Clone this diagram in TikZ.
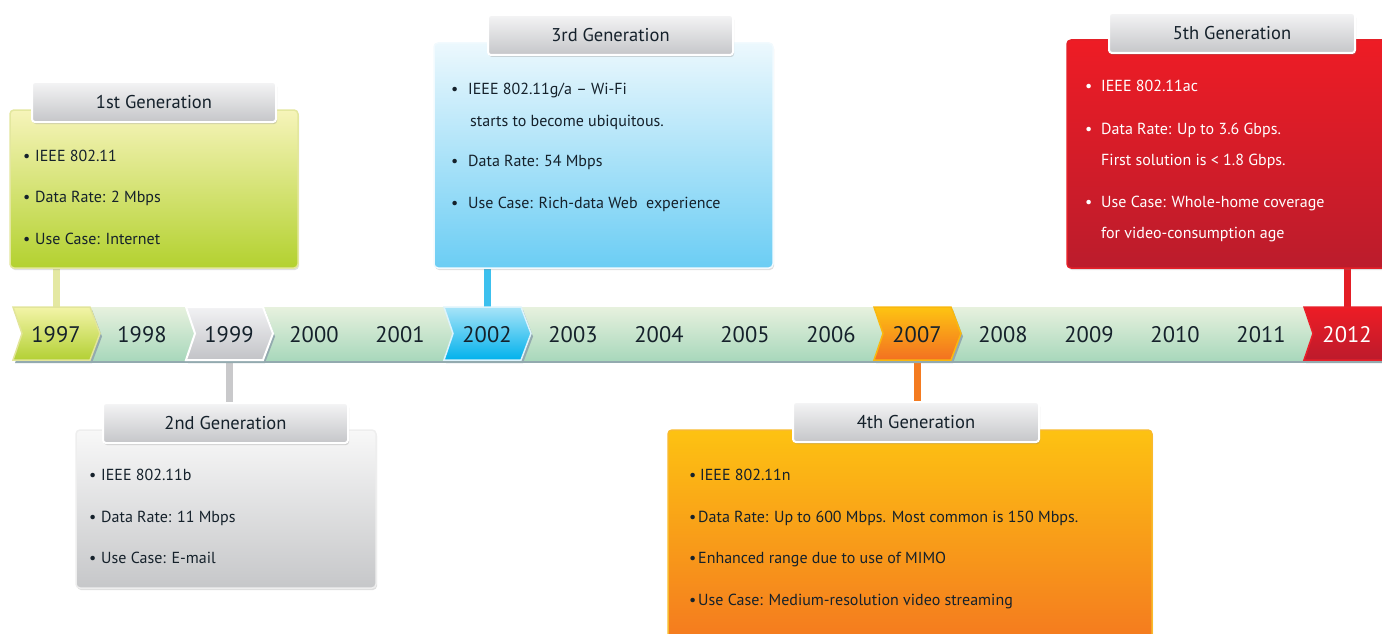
\documentclass[tikz,border=0pt]{standalone}
\usepackage{fontspec}
\setmainfont{PT Sans}
\usetikzlibrary{shadows,backgrounds}
\definecolor{txt}{HTML}{15212B}
\definecolor{bandT}{HTML}{E7F1DE}
\definecolor{bandB}{HTML}{A9D8BC}
\definecolor{bandsh}{HTML}{93AAAF}
\definecolor{hdrT}{HTML}{F4F4F5}
\definecolor{hdrB}{HTML}{C5C6C9}
% chevron colours
\definecolor{c1T}{HTML}{F3F4A8}\definecolor{c1B}{HTML}{B3D034}\definecolor{c1D}{HTML}{E2E59A}
\definecolor{c2T}{HTML}{F2F2F4}\definecolor{c2B}{HTML}{C2C3C7}
\definecolor{c3T}{HTML}{A8E4F8}\definecolor{c3B}{HTML}{00B1EC}\definecolor{c3D}{HTML}{DDF3FB}
\definecolor{c4T}{HTML}{FEC412}\definecolor{c4B}{HTML}{F37021}\definecolor{c4D}{HTML}{F9B80F}
\definecolor{c5T}{HTML}{EE1C25}\definecolor{c5B}{HTML}{BC1B2C}\definecolor{c5D}{HTML}{E8202A}
% box colours
\definecolor{b1T}{HTML}{F6F4BA}\definecolor{b1B}{HTML}{B3D12F}\definecolor{b1D}{HTML}{E3E79E}
\definecolor{b2T}{HTML}{F8F8F8}\definecolor{b2B}{HTML}{C6C7C9}\definecolor{b2D}{HTML}{EEEEEE}
\definecolor{b3T}{HTML}{ECF8FD}\definecolor{b3B}{HTML}{6BCDF4}\definecolor{b3D}{HTML}{F2FAFE}
\definecolor{b4T}{HTML}{FDC212}\definecolor{b4B}{HTML}{F37021}\definecolor{b4D}{HTML}{F9BA2C}
\definecolor{b5T}{HTML}{EE1C25}\definecolor{b5B}{HTML}{BB1C2C}\definecolor{b5D}{HTML}{E42028}
% connector colours
\definecolor{k1}{HTML}{E4E8A2}\definecolor{k2}{HTML}{C9C9CB}\definecolor{k3}{HTML}{3CC0EE}
\definecolor{k4}{HTML}{F47B20}\definecolor{k5}{HTML}{E31E26}
\newcommand\bl[1][12pt]{\makebox[#1][l]{•}}
\newcommand\chev[2]{%
  \begin{scope}[shift={(#1,0)}]
    \fill[bandsh] (-41,310) -- (36,310) -- (46,336.5) -- (36,363) -- (-41,363) -- (-32,336.5) -- cycle;
    \path[#2] (-43,307) -- (34,307) -- (44,333.5) -- (34,360) -- (-43,360) -- (-34,333.5) -- cycle;
  \end{scope}}
\tikzset{
  box/.style={rectangle, rounded corners=4pt, line width=1.5pt, inner sep=0pt,
    drop shadow={shadow xshift=1pt, shadow yshift=-2pt, opacity=.25}},
  hdr/.style={rectangle, rounded corners=3pt, draw=white, line width=2pt,
    top color=hdrT, bottom color=hdrB, text=txt, font=\fontsize{18.5}{20}\selectfont,
    minimum width=245pt, minimum height=40pt, inner sep=0pt,
    drop shadow={shadow xshift=1pt, shadow yshift=-2pt, opacity=.3}},
  body/.style={anchor=mid west, inner sep=0pt, yshift=-3pt, text=txt, font=\fontsize{16}{18}\selectfont},
  yr/.style={inner sep=0pt, yshift=-1pt, text=txt, font=\fontsize{22.5}{24}\selectfont},
  conn/.style={line width=7pt},
}
\begin{document}
\begin{tikzpicture}[x=1pt,y=-1pt]
\useasboundingbox (0,0) rectangle (1382,634);
\clip (0,0) rectangle (1382,634);
% band
\fill[bandsh] (60,310) rectangle (1382,363);
\fill[top color=bandT, bottom color=bandB] (60,307) rectangle (1382,360);
% chevrons
\chev{56}{top color=c1T, bottom color=c1B, draw=c1D, line width=1.5pt}
\chev{229}{top color=c2T, bottom color=c2B, draw=white, line width=2pt}
\chev{487}{top color=c3T, bottom color=c3B, draw=c3D, line width=1.5pt}
\chev{917}{top color=c4T, bottom color=c4B, draw=c4D, line width=1.5pt}
\fill[bandsh] (1306,310) -- (1390,310) -- (1390,363) -- (1306,363) -- (1315,336.5) -- cycle;
\path[top color=c5T, bottom color=c5B, draw=c5D, line width=1.5pt]
  (1304,307) -- (1390,307) -- (1390,360) -- (1304,360) -- (1313,333.5) -- cycle;
% years
\node[yr] (y1997) at (56,334) {1997};
\node[yr] (y1998) at (142,334) {1998};
\node[yr] (y1999) at (229,334) {1999};
\node[yr] (y2000) at (314,334) {2000};
\node[yr] (y2001) at (400,334) {2001};
\node[yr] (y2002) at (487,334) {2002};
\node[yr] (y2003) at (573,334) {2003};
\node[yr] (y2004) at (659,334) {2004};
\node[yr] (y2005) at (745,334) {2005};
\node[yr] (y2006) at (831,334) {2006};
\node[yr] (y2007) at (917,334) {2007};
\node[yr] (y2008) at (1003,334) {2008};
\node[yr] (y2009) at (1089,334) {2009};
\node[yr] (y2010) at (1175,334) {2010};
\node[yr] (y2011) at (1261,334) {2011};
\node[yr, text=white] (y2012) at (1347,334) {2012};
% boxes
\node[box, top color=b1T, bottom color=b1B, draw=b1D,
  minimum width=288pt, minimum height=158pt] (b1) at (154,189) {};
\node[box, top color=b2T, bottom color=b2B, draw=b2D,
  minimum width=300pt, minimum height=158pt] (b2) at (226,509) {};
\node[box, top color=b3T, bottom color=b3B, draw=b3D,
  minimum width=339pt, minimum height=225pt] (b3) at (603.5,155.5) {};
\node[box, top color=b4T, bottom color=b4B, draw=b4D,
  minimum width=484pt, minimum height=240pt] (b4) at (910,550) {};
\node[box, top color=b5T, bottom color=b5B, draw=b5D,
  minimum width=330pt, minimum height=228pt] (b5) at (1232,154) {};
% headers
\node[hdr, minimum width=244pt] (h1) at (154,102) {1st Generation};
\node[hdr] (h2) at (225.5,423) {2nd Generation};
\node[hdr] (h3) at (610.5,35) {3rd Generation};
\node[hdr, minimum width=246pt] (h4) at (916,422) {4th Generation};
\node[hdr, minimum width=246pt] (h5) at (1232,33) {5th Generation};
% texts 1
\node[body] (t1a) at (23,156) {\bl IEEE 802.11};
\node[body] (t1b) at (23,197) {\bl Data Rate: 2 Mbps};
\node[body] (t1c) at (23,239) {\bl Use Case: Internet};
% texts 2
\node[body] (t2a) at (89,475) {\bl IEEE 802.11b};
\node[body] (t2b) at (89,517) {\bl Data Rate: 11 Mbps};
\node[body] (t2c) at (89,558) {\bl Use Case: E-mail};
% texts 3
\node[body] (t3a) at (451,89) {\bl[17pt]IEEE 802.11g/a – Wi-Fi};
\node[body] (t3b) at (470,121) {starts to become ubiquitous.};
\node[body] (t3c) at (451,161) {\bl[17pt]Data Rate: 54 Mbps};
\node[body] (t3d) at (451,203) {\bl[17pt]Use Case: Rich-data Web\ \ experience};
% texts 4
\node[body] (t4a) at (689,475) {\bl[11pt]IEEE 802.11n};
\node[body] (t4b) at (689,517) {\bl[9pt]Data Rate: Up to 600 Mbps. Most common is 150 Mbps.};
\node[body] (t4c) at (689,558) {\bl[9pt]Enhanced range due to use of MIMO};
\node[body] (t4d) at (689,600) {\bl[9pt]Use Case: Medium-resolution video streaming};
% texts 5
\node[body, text=white] (t5a) at (1085,86) {\bl[16pt]IEEE 802.11ac};
\node[body, text=white] (t5b) at (1085,129) {\bl[16pt]Data Rate: Up to 3.6 Gbps.};
\node[body, text=white] (t5c) at (1101,160) {First solution is < 1.8 Gbps.};
\node[body, text=white] (t5d) at (1085,202) {\bl[16pt]Use Case: Whole-home coverage};
\node[body, text=white] (t5e) at (1101,233) {for video-consumption age};
% connectors
\begin{pgfonlayer}{background}
\draw[conn, draw=k1] (b1.south -| y1997) -- (y1997);
\draw[conn, draw=k2] (y1999) -- (h2.north -| y1999);
\draw[conn, draw=k3] (b3.south -| y2002) -- (y2002);
\draw[conn, draw=k4] (y2007) -- (h4.north -| y2007);
\draw[conn, draw=k5] (b5.south -| y2012) -- (y2012);
\end{pgfonlayer}
\end{tikzpicture}
\end{document}
